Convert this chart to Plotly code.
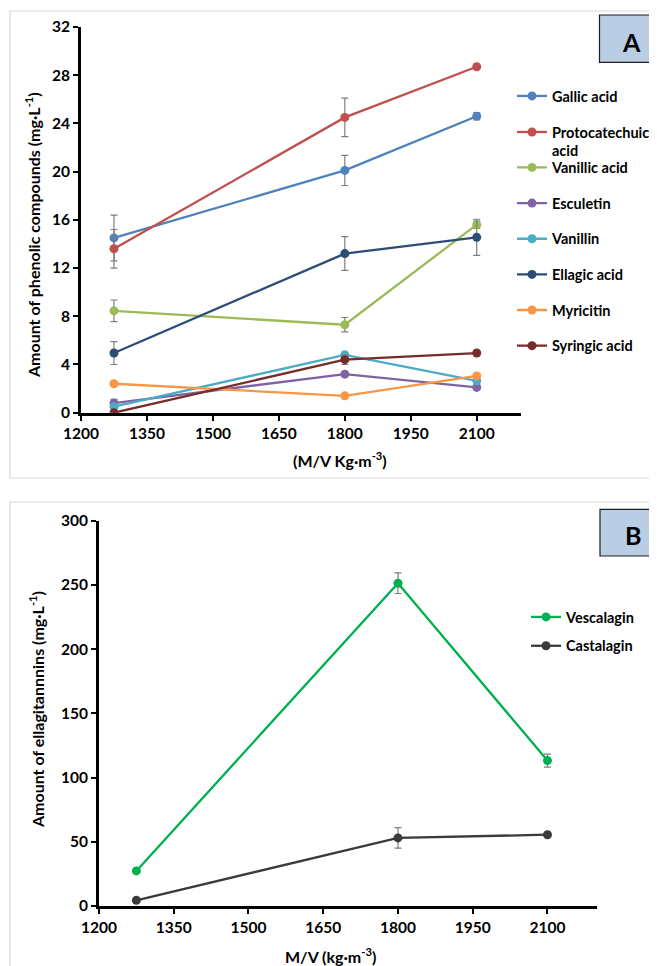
import plotly.graph_objects as go

# ---------------- data ----------------
mv = [1275, 1800, 2100]

names_a = ["Gallic acid", "Protocatechuic<br>acid", "Vanillic acid", "Esculetin",
           "Vanillin", "Ellagic acid", "Myricitin", "Syringic acid"]
gallic = [14.5, 20.1, 24.6]
gallic_err = [1.9, 1.25, 0.3]
protocatechuic = [13.6, 24.5, 28.7]
protocatechuic_err = [1.6, 1.6, 0]
vanillic = [8.45, 7.3, 15.6]
vanillic_err = [0.9, 0.6, 0.3]
esculetin = [0.8, 3.2, 2.1]
esculetin_err = [0.3, 0, 0]
vanillin = [0.5, 4.8, 2.65]
vanillin_err = [0, 0.2, 0]
ellagic = [4.95, 13.2, 14.55]
ellagic_err = [0.95, 1.4, 1.5]
myricitin = [2.4, 1.4, 3.05]
myricitin_err = [0, 0, 0]
syringic = [0.0, 4.4, 4.95]
syringic_err = [0, 0.4, 0]

names_b = ["Vescalagin", "Castalagin"]
vescalagin = [27.3, 251.3, 113.2]
vescalagin_err = [0, 8, 5]
castalagin = [4.4, 53.0, 55.5]
castalagin_err = [0, 8, 0]

x_ticks = [1200, 1350, 1500, 1650, 1800, 1950, 2100]

colors_a = ["#4F81BD", "#C0504D", "#9BBB59", "#8064A2",
            "#4BACC6", "#2C4D75", "#F79646", "#772C2A"]
colors_b = ["#00B050", "#3A3A3A"]

series_a = [gallic, protocatechuic, vanillic, esculetin, vanillin, ellagic, myricitin, syringic]
errors_a = [gallic_err, protocatechuic_err, vanillic_err, esculetin_err,
            vanillin_err, ellagic_err, myricitin_err, syringic_err]
series_b = [vescalagin, castalagin]
errors_b = [vescalagin_err, castalagin_err]

FONT = "Lato"
W, H = 657, 966
OFF = 8  # page body margin

def py(px):
    return 1 - (px - OFF) / H

def pxx(px):
    return (px - OFF) / W

fig = go.Figure()

for i, (n, s, e, c) in enumerate(zip(names_a, series_a, errors_a, colors_a)):
    fig.add_trace(go.Scatter(
        x=mv, y=s, name=n, mode="lines+markers",
        line=dict(color=c, width=2.3),
        marker=dict(color=c, size=9),
        error_y=dict(type="data", array=e, color="#7F7F7F", thickness=1.2, width=3.5),
        xaxis="x", yaxis="y",
        legend="legend" if i < 2 else "legend2",
        legendgroup=n,
    ))

for n, s, e, c in zip(names_b, series_b, errors_b, colors_b):
    fig.add_trace(go.Scatter(
        x=mv, y=s, name=n, mode="lines+markers",
        line=dict(color=c, width=2.3),
        marker=dict(color=c, size=9),
        error_y=dict(type="data", array=e, color="#7F7F7F", thickness=1.2, width=3.5),
        xaxis="x2", yaxis="y2",
        legend="legend3",
        legendgroup=n,
    ))

axis_common = dict(
    showline=True, linecolor="black", linewidth=3,
    ticks="outside", tickcolor="black", tickwidth=2, ticklen=5,
    showgrid=False, zeroline=False,
    tickfont=dict(family=FONT, size=15.5, color="black", weight="bold"),
)

leg_font = dict(family=FONT, size=14.5, color="black", weight="bold")

fig.update_layout(
    width=W, height=H,
    margin=dict(l=0, r=0, t=0, b=0, autoexpand=False),
    paper_bgcolor="white", plot_bgcolor="white",
    font=dict(family=FONT, color="black"),
    xaxis=dict(domain=[pxx(81), pxx(520.7)], anchor="y", range=[1200, 2200],
               tickvals=x_ticks, **axis_common),
    yaxis=dict(domain=[py(412.7), py(27)], anchor="x", range=[0, 32],
               tick0=0, dtick=4, **axis_common),
    xaxis2=dict(domain=[pxx(99), pxx(597.3)], anchor="y2", range=[1200, 2200],
                tickvals=x_ticks, **axis_common),
    yaxis2=dict(domain=[py(906), py(520.7)], anchor="x2", range=[0, 300],
                tick0=0, dtick=50, **axis_common),
    legend=dict(x=pxx(512), y=py(80), xanchor="left", yanchor="top",
                bgcolor="rgba(0,0,0,0)", tracegroupgap=14.2, valign="top",
                font=leg_font, itemwidth=30),
    legend2=dict(x=pxx(512), y=py(151.5), xanchor="left", yanchor="top",
                 bgcolor="rgba(0,0,0,0)", tracegroupgap=13.8,
                 font=leg_font, itemwidth=30),
    legend3=dict(x=pxx(526), y=py(601), xanchor="left", yanchor="top",
                 bgcolor="rgba(0,0,0,0)", tracegroupgap=7,
                 font=leg_font, itemwidth=30),
    showlegend=True,
)

# frames and label boxes
fig.add_shape(type="rect", xref="paper", yref="paper",
              x0=pxx(10), x1=1.03, y0=py(478), y1=py(11),
              line=dict(color="#D9D9D9", width=1.2), layer="below")
fig.add_shape(type="rect", xref="paper", yref="paper",
              x0=pxx(10), x1=1.03, y0=-0.03, y1=py(502),
              line=dict(color="#D9D9D9", width=1.2), layer="below")
fig.add_shape(type="rect", xref="paper", yref="paper",
              x0=pxx(599.5), x1=1.03, y0=py(62.3), y1=py(15),
              line=dict(color="#1F1F1F", width=1.2), fillcolor="#B9CDE5")
fig.add_shape(type="rect", xref="paper", yref="paper",
              x0=pxx(600), x1=1.03, y0=py(556), y1=py(509.3),
              line=dict(color="#1F1F1F", width=1.2), fillcolor="#B9CDE5")

ann_font = dict(family=FONT, size=16, color="black", weight="bold")
big_font = dict(family=FONT, size=25, color="black", weight="bold")
cm = dict(xref="paper", yref="paper", showarrow=False, xanchor="center", yanchor="middle")
fig.add_annotation(text="A", x=pxx(631.7), y=py(41.7), font=big_font, **cm)
fig.add_annotation(text="B", x=pxx(632.7), y=py(535), font=big_font, **cm)
fig.add_annotation(text="(M/V Kg·m<sup>-3</sup>)", x=pxx(340), y=py(460), font=ann_font, **cm)
fig.add_annotation(text="Amount of phenolic compounds (mg·L<sup>-1</sup>)",
                   x=pxx(33), y=py(235), textangle=-90, font=ann_font, **cm)
fig.add_annotation(text="M/V (kg·m<sup>-3</sup>)", x=pxx(330), y=py(955), font=ann_font, **cm)
fig.add_annotation(text="Amount of ellagitannnins (mg·L<sup>-1</sup>)",
                   x=pxx(36), y=py(710), textangle=-90, font=ann_font, **cm)

fig.write_html("out.html")
